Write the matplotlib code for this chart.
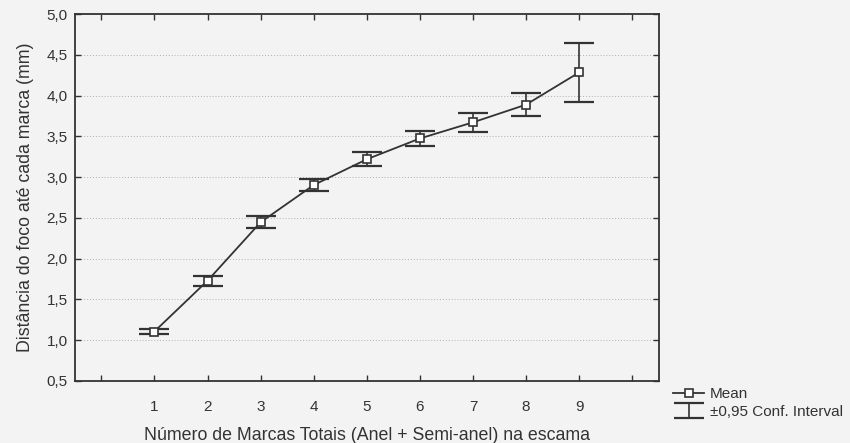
import numpy as np
import matplotlib
matplotlib.use('Agg')
import matplotlib.pyplot as plt
from matplotlib.ticker import FuncFormatter

plt.rcParams['font.family'] = ['Liberation Sans', 'DejaVu Sans']

# número de marcas e médias
marcas = [1, 2, 3, 4, 5, 6, 7, 8, 9]
media = [1.107, 1.73, 2.447, 2.904, 3.22, 3.475, 3.673, 3.89, 4.285]
ic95 = [0.03, 0.06, 0.074, 0.076, 0.085, 0.095, 0.12, 0.145, 0.364]

xticks = list(range(0, 11))
xlabels = ['', '1', '2', '3', '4', '5', '6', '7', '8', '9', '']
yticks = [0.5, 1.0, 1.5, 2.0, 2.5, 3.0, 3.5, 4.0, 4.5, 5.0]

cor = '#333333'
fundo = '#f3f3f3'

fig = plt.figure(figsize=(8.5, 4.43), dpi=100, facecolor=fundo)
ax = fig.add_axes([0.088, 0.14, 0.687, 0.828], facecolor=fundo)

# intervalos de confiança
ax.errorbar(marcas, media, yerr=ic95, fmt='none', ecolor=cor, elinewidth=1.2,
            capsize=11, capthick=1.6, label='±0,95 Conf. Interval', zorder=2)
# médias
ax.plot(marcas, media, color=cor, lw=1.3, marker='s', ms=5.5,
        mfc='white', mec=cor, mew=1.2, label='Mean', zorder=3)

ax.set_xlim(-0.5, 10.5)
ax.set_ylim(0.5, 5.0)
ax.set_xticks(xticks)
ax.set_xticklabels(xlabels)
ax.set_yticks(yticks)
ax.yaxis.set_major_formatter(FuncFormatter(lambda v, p: ('%.1f' % v).replace('.', ',')))

ax.grid(axis='y', ls=(0, (1, 2)), color='#b0b0b0', lw=0.7)
ax.tick_params(direction='in', top=True, right=True, length=4, width=1,
               color=cor, labelsize=11, labelcolor='#333333')
ax.tick_params(axis='x', pad=14)
ax.tick_params(axis='y', pad=5)
for s in ax.spines.values():
    s.set_color(cor)
    s.set_linewidth(1.3)

ax.set_xlabel('Número de Marcas Totais (Anel + Semi-anel) na escama',
              fontsize=12.8, color='#333333', labelpad=9)
ax.set_ylabel('Distância do foco até cada marca (mm)', fontsize=12.8,
              color='#333333', labelpad=9)

h, l = ax.get_legend_handles_labels()
ordem = [l.index('Mean'), l.index('±0,95 Conf. Interval')]
fig.legend([h[i] for i in ordem], [l[i] for i in ordem], loc='lower left',
           bbox_to_anchor=(0.785, 0.04), frameon=False, fontsize=11,
           handlelength=2.0, handletextpad=0.4, labelspacing=0.25,
           borderaxespad=0, labelcolor='#333333')

plt.savefig('out.png', dpi=100, facecolor=fundo)
